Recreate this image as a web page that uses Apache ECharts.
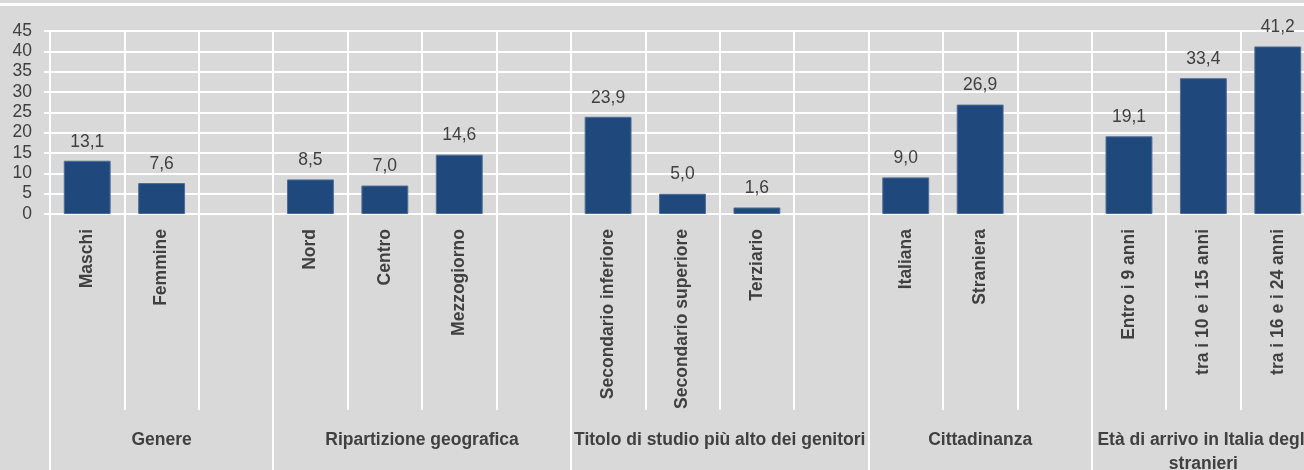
<!DOCTYPE html>
<html>
<head>
<meta charset="utf-8">
<script src="https://cdn.jsdelivr.net/npm/echarts@6/dist/echarts.min.js"></script>
<style>
  html, body { margin: 0; padding: 0; background: #d9d9d9; }
  #chart { width: 1304px; height: 470px; }
</style>
</head>
<body>
<div id="chart"></div>
<script>
// categorie (vuote = spazio tra i gruppi)
const categories = [
    'Maschi', 'Femmine', '',
    'Nord', 'Centro', 'Mezzogiorno', '',
    'Secondario inferiore', 'Secondario superiore', 'Terziario', '',
    'Italiana', 'Straniera', '',
    'Entro i 9 anni', 'tra i 10 e i 15 anni', 'tra i 16 e i 24 anni'
];
const values = [
    13.1, 7.6, null,
    8.5, 7.0, 14.6, null,
    23.9, 5.0, 1.6, null,
    9.0, 26.9, null,
    19.1, 33.4, 41.2
];
const groups = [
    'Genere',
    'Ripartizione geografica',
    'Titolo di studio più alto dei genitori',
    'Cittadinanza',
    'Età di arrivo in Italia degli\nstranieri'
];
const groupSizes = [3, 4, 4, 3, 3];
const yMin = 0, yMax = 45, yStep = 5;

const FONT = '"Liberation Sans Narrow", "Arial Narrow", "Liberation Sans", Arial, sans-serif';
const TXT = '#404040';
const FS = 17.5;

// asse a mezze categorie per i separatori e le etichette dei gruppi
let halfData = new Array(categories.length * 2 + 1).fill('');
let boundaries = new Set();
let start = 0;
groups.forEach((g, i) => {
    boundaries.add(start * 2);
    halfData[start * 2 + groupSizes[i]] = g;
    start += groupSizes[i];
});
boundaries.add(start * 2);

let chart = echarts.init(document.getElementById('chart'));
chart.setOption({
    backgroundColor: '#d9d9d9',
    animation: false,
    grid: { left: 50, right: -11, top: 31, bottom: 256, containLabel: false, outerBoundsMode: 'none' },
    graphic: [{
        type: 'rect', left: 0, top: 3,
        shape: { width: 1304, height: 3 },
        style: { fill: '#ffffff' }
    }],
    xAxis: [{
        type: 'category',
        data: categories,
        position: 'bottom',
        axisLine: { show: true, lineStyle: { color: '#ffffff', width: 2 } },
        axisTick: { show: true, interval: 0, length: 196, lineStyle: { color: '#ffffff', width: 2 } },
        splitLine: { show: true, interval: 0, lineStyle: { color: '#ffffff', width: 2 } },
        axisLabel: {
            interval: 0, rotate: 90, margin: 15,
            fontFamily: FONT, fontSize: FS, fontWeight: 'bold', color: TXT
        }
    }, {
        type: 'category',
        data: halfData,
        position: 'bottom',
        boundaryGap: false,
        axisLine: { show: false },
        axisTick: {
            show: true, length: 258,
            interval: (idx) => boundaries.has(idx),
            lineStyle: { color: '#ffffff', width: 2 }
        },
        splitLine: { show: false },
        axisLabel: {
            interval: 0, margin: 214, verticalAlign: 'top', lineHeight: 24,
            fontFamily: FONT, fontSize: FS, fontWeight: 'bold', color: TXT
        }
    }],
    yAxis: {
        type: 'value',
        min: yMin, max: yMax, interval: yStep,
        axisLine: { show: true, lineStyle: { color: '#ffffff', width: 2 } },
        axisTick: { show: true, length: 6, lineStyle: { color: '#ffffff', width: 2 } },
        splitLine: { show: true, lineStyle: { color: '#ffffff', width: 2 } },
        axisLabel: {
            margin: 18, showMinLabel: true, showMaxLabel: true, hideOverlap: false,
            fontFamily: FONT, fontSize: FS, color: TXT
        }
    },
    series: [{
        type: 'bar',
        xAxisIndex: 0,
        data: values,
        barCategoryGap: '37%',
        itemStyle: { color: '#1f497d', borderColor: '#4e6d95', borderWidth: 1 },
        label: {
            show: true, position: 'top', distance: 10,
            fontFamily: FONT, fontSize: FS, color: TXT,
            formatter: (p) => p.value == null ? '' : p.value.toFixed(1).replace('.', ',')
        }
    }]
});
</script>
</body>
</html>
